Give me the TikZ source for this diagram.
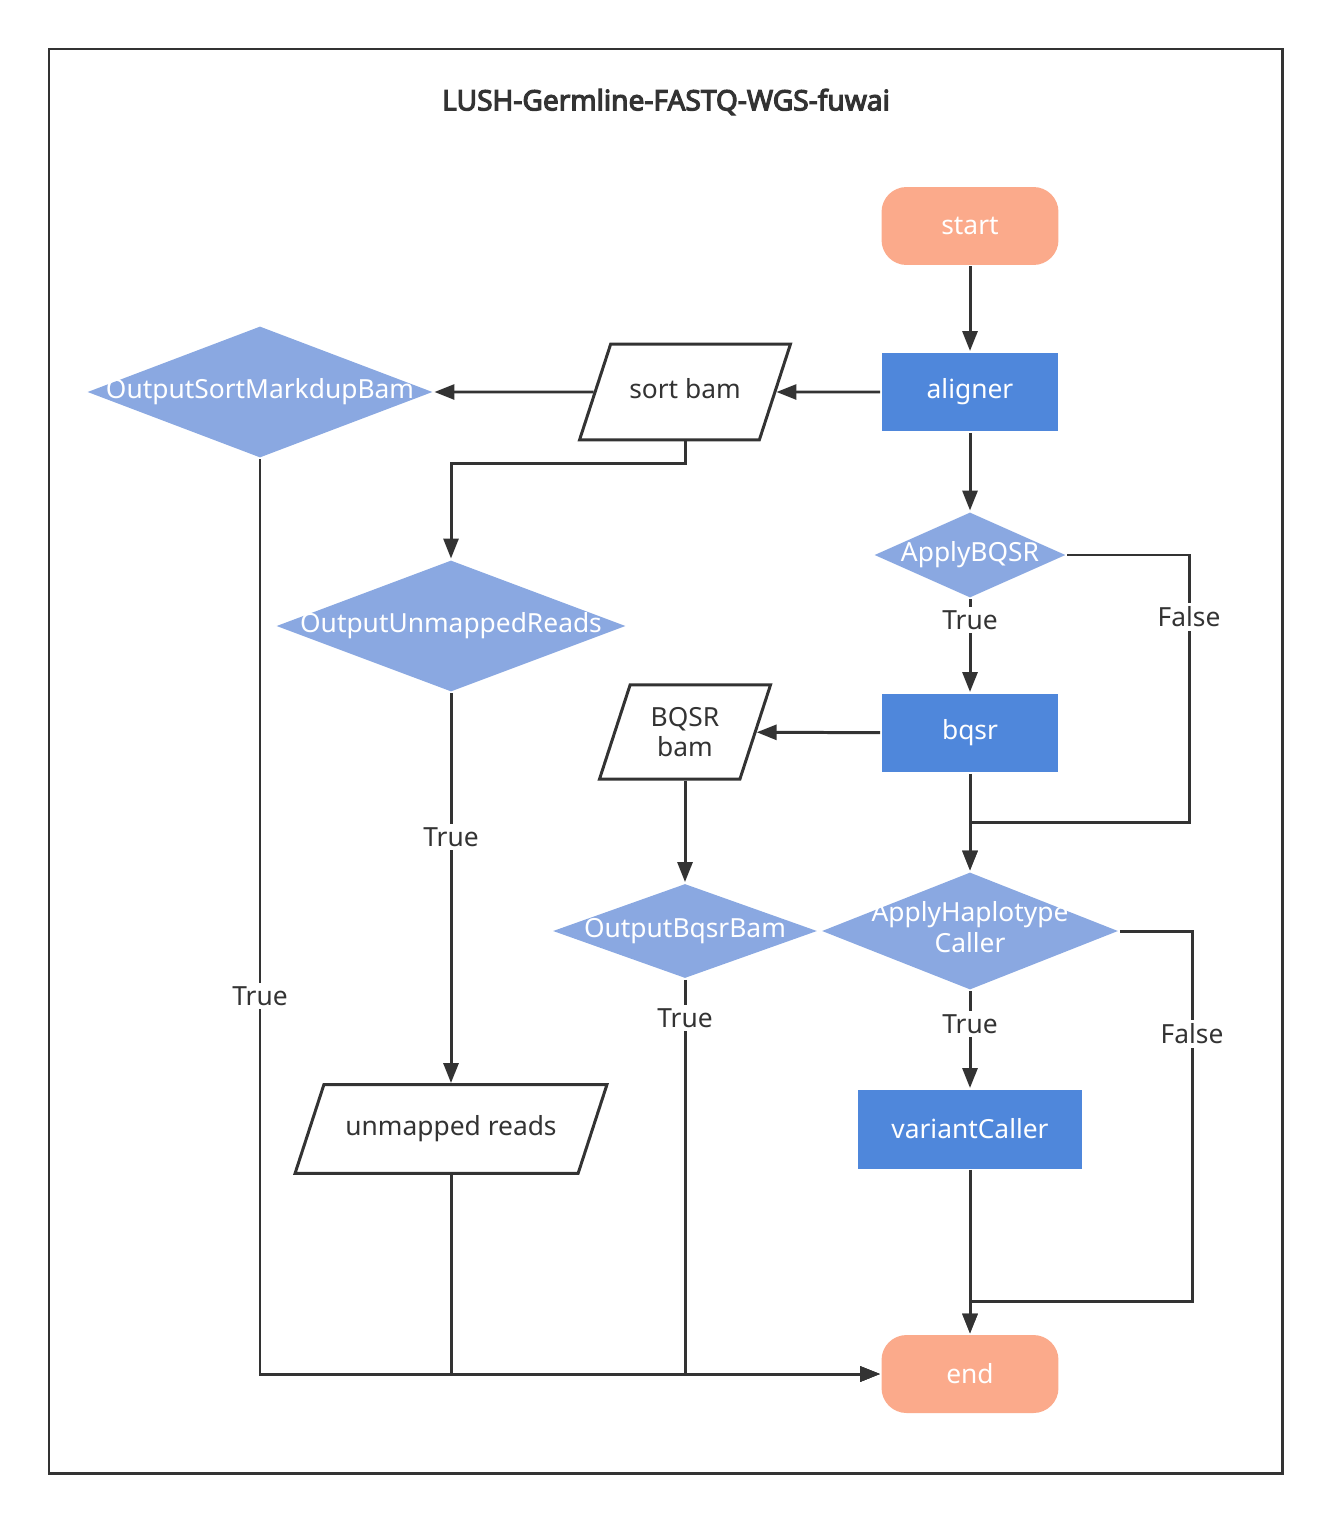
\documentclass[tikz,border=0pt]{standalone}
\usepackage{fontspec}
\setmainfont{Noto Sans}
\newfontfamily\titlefont{Noto Sans}[FakeBold=4]
\usetikzlibrary{shapes.geometric,arrows.meta}
\definecolor{termcol}{HTML}{FBAA8B}
\definecolor{proccol}{HTML}{4F87DB}
\definecolor{deccol}{HTML}{8AA8E1}
\definecolor{linecol}{HTML}{333333}

\begin{document}
\begin{tikzpicture}
[x=0.02cm,y=-0.02cm,line width=1.7pt,color=linecol,%
  every node/.style={inner sep=0pt},%
  term/.style={rectangle,rounded corners=0.5cm,fill=termcol,text=white,minimum width=3.54cm,minimum height=1.56cm},%
  proc/.style={rectangle,fill=proccol,text=white,minimum height=1.58cm},%
  dec/.style={diamond,fill=deccol,text=white},%
  io/.style={trapezium,trapezium stretches body=true,trapezium left angle=72,trapezium right angle=108,draw=linecol,fill=white,align=center},%
  lbl/.style={fill=white,inner sep=2pt},%
  arr/.style={-{Triangle[length=0.4cm,width=0.3cm]}}]
\fontsize{15}{17.5}\selectfont
\useasboundingbox (0,0) rectangle (1332,1524);
\draw (49,49) rectangle (1282,1473);
\node[font=\titlefont\fontsize{16}{19}\selectfont] (title) at (666,102) {LUSH-Germline-FASTQ-WGS-fuwai};

\node[term] (start) at (970,226) {start};
\node[proc,minimum width=3.54cm] (aligner) at (970,392) {aligner};
\node[io,minimum width=4.22cm,text height=10.8pt,text depth=3.6pt,inner ysep=20.1pt] (sortbam) at (685,392) {sort bam};
\node[dec,minimum width=6.92cm,minimum height=2.64cm] (sortmd) at (260,392) {\makebox[0pt]{OutputSortMarkdupBam}};
\node[dec,minimum width=7cm,minimum height=2.64cm] (unmdec) at (451,626) {\makebox[0pt]{OutputUnmappedReads}};
\node[dec,minimum width=3.84cm,minimum height=1.72cm] (apbqsr) at (970,555) {\makebox[0pt]{ApplyBQSR}};
\node[proc,minimum width=3.54cm] (bqsr) at (970,733) {bqsr};
\node[io,minimum width=3.42cm,inner ysep=12.5pt] (bqsrbam) at (685,732) {BQSR\\bam};
\node[dec,minimum width=5.3cm,minimum height=1.9cm] (bqsrdec) at (685,931) {\makebox[0pt]{OutputBqsrBam}};
\node[dec,minimum width=5.94cm,minimum height=2.36cm] (haplo) at (970,931)
  {\makebox[0pt]{\begin{tabular}{@{}c@{}}ApplyHaplotype\\Caller\end{tabular}}};
\node[proc,minimum width=4.5cm] (varcall) at (970,1129) {variantCaller};
\node[io,minimum width=6.24cm,text height=10.8pt,text depth=3.6pt,inner ysep=18.1pt] (unmapped) at (451,1129) {unmapped reads};
\node[term] (end) at (970,1374) {end};

\coordinate (fb1) at (1189,822);
\coordinate (fb2) at (1192,1301);

\draw[arr] (start) -- (aligner);
\draw[arr] (aligner) -- (sortbam);
\draw[arr] (sortbam) -- (sortmd);
\draw[arr] (sortbam.center |- sortbam.south) -- ++(0,22) -| (unmdec.north);
\draw[arr] (unmdec) -- (unmapped.center |- unmapped.north);
\draw[arr] (aligner) -- (apbqsr);
\draw[arr] (apbqsr) -- (bqsr);
\draw[arr] (bqsr) -- (bqsrbam);
\draw[arr] (bqsrbam.center |- bqsrbam.south) -- (bqsrdec);
\draw[arr] (bqsr) -- (haplo);
\draw[arr] (apbqsr.east) -| (fb1) -| (haplo.north);
\draw[arr] (haplo) -- (varcall);
\draw[arr] (varcall) -- (end);
\draw[arr] (haplo.east) -| (fb2) -| (end.north);
\draw[arr] (sortmd.south) |- (end.west);
\draw[arr] (unmapped.center |- unmapped.south) |- (end.west);
\draw[arr] (bqsrdec.south) |- (end.west);

\node[lbl] (t1) at (970,620) {True};
\node[lbl] (f1) at (1189,617) {False};
\node[lbl] (t2) at (970,1024) {True};
\node[lbl] (f2) at (1192,1034) {False};
\node[lbl] (t3) at (260,996) {True};
\node[lbl] (t4) at (451,837) {True};
\node[lbl] (t5) at (685,1018) {True};
\end{tikzpicture}
\end{document}
